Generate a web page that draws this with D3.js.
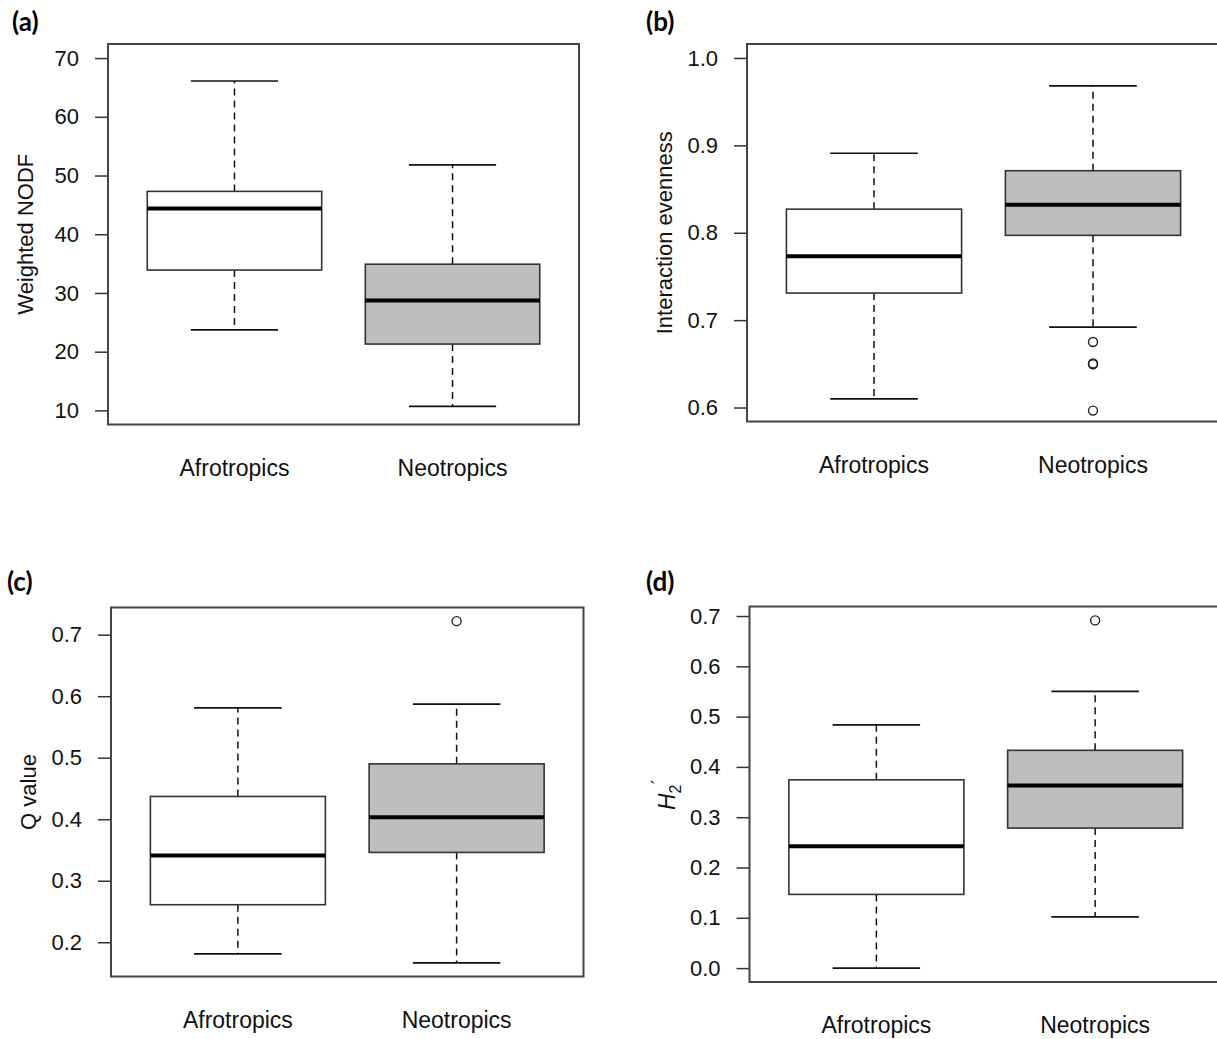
<!DOCTYPE html>
<html>
<head>
<meta charset="utf-8">
<script src="https://cdn.jsdelivr.net/npm/d3@7"></script>
<style>
  body { margin: 0; background: #fff; }
  svg { display: block; }
</style>
</head>
<body>
<script>

// groups and fills shared by all four panels
var groups = ["Afrotropics", "Neotropics"];
var fills = ["#ffffff", "#bebebe"];

// five number summaries: [low whisker, q1, median, q3, high whisker]
var nodfStats = [[23.7, 33.9, 44.4, 47.3, 66.1], [10.7, 21.3, 28.7, 34.9, 51.8]];
var nodfOut = [[], []];
var nodfTicks = [10, 20, 30, 40, 50, 60, 70];

var evenStats = [[0.610, 0.731, 0.773, 0.827, 0.891], [0.692, 0.797, 0.832, 0.871, 0.968]];
var evenOut = [[], [0.675, 0.6495, 0.6505, 0.5965]];
var evenTicks = [0.6, 0.7, 0.8, 0.9, 1.0];

var qStats = [[0.181, 0.261, 0.341, 0.437, 0.581], [0.1665, 0.346, 0.403, 0.490, 0.587]];
var qOut = [[], [0.722]];
var qTicks = [0.2, 0.3, 0.4, 0.5, 0.6, 0.7];

var h2Stats = [[0.0, 0.1465, 0.2424, 0.3743, 0.4835], [0.1019, 0.2784, 0.363, 0.433, 0.550]];
var h2Out = [[], [0.6913]];
var h2Ticks = [0.0, 0.1, 0.2, 0.3, 0.4, 0.5, 0.6, 0.7];

var W = 1217, H = 1039;
var font = "'Liberation Sans', Arial, sans-serif";

var svg = d3.select("body").append("svg")
            .attr("width", W)
            .attr("height", H);

// R style range: limits padded by 4% each side
var pad = function(lo, hi){
  var d = (hi - lo) * 0.04;
  return [lo - d, hi + d];
}

var draw_panel = function(p){
  var g = svg.append("g");

  // y limits: fixed ylim if given, otherwise from the data
  var lim = p.ylim;
  if (!lim) {
    var all = [];
    p.stats.forEach(function(s){ all = all.concat(s); });
    p.out.forEach(function(o){ all = all.concat(o); });
    lim = d3.extent(all);
  }

  var x = d3.scaleLinear().domain(pad(0.5, 2.5)).range([p.left, p.right]);
  var y = d3.scaleLinear().domain(pad(lim[0], lim[1])).range([p.bottom, p.top]);

  // panel letter
  g.append("text")
    .attr("x", p.lx).attr("y", p.ly)
    .style("font-family", "Lato, 'Open Sans', sans-serif")
    .style("font-weight", "bold")
    .style("font-size", "26px")
    .style("fill", "#000")
    .text(p.letter);

  // y axis, ticks on the left
  var yAxis = d3.axisLeft(y)
                .tickValues(p.ticks)
                .tickSize(13)
                .tickPadding(16)
                .tickFormat(p.fmt);
  var ax = g.append("g")
            .attr("transform", "translate(" + p.left + ",0)")
            .call(yAxis);
  ax.select(".domain").remove();
  ax.selectAll(".tick line").attr("stroke", "#333").attr("stroke-width", 1.5);
  ax.selectAll(".tick text")
    .style("font-family", font)
    .style("font-size", "22px")
    .style("fill", "#111");

  // boxes
  var bw = 0.4, sw = 0.2;
  p.stats.forEach(function(s, i){
    var cx = x(i + 1);

    // dashed whiskers
    g.append("line")
      .attr("x1", cx).attr("x2", cx)
      .attr("y1", y(s[3])).attr("y2", y(s[4]))
      .attr("stroke", "#111").attr("stroke-width", 1.5)
      .attr("stroke-dasharray", "7,5");
    g.append("line")
      .attr("x1", cx).attr("x2", cx)
      .attr("y1", y(s[1])).attr("y2", y(s[0]))
      .attr("stroke", "#111").attr("stroke-width", 1.5)
      .attr("stroke-dasharray", "7,5");

    // staples
    [s[0], s[4]].forEach(function(v){
      g.append("line")
        .attr("x1", x(i + 1 - sw)).attr("x2", x(i + 1 + sw))
        .attr("y1", y(v)).attr("y2", y(v))
        .attr("stroke", "#111").attr("stroke-width", 1.7);
    });

    // box
    g.append("rect")
      .attr("x", x(i + 1 - bw)).attr("y", y(s[3]))
      .attr("width", x(i + 1 + bw) - x(i + 1 - bw))
      .attr("height", y(s[1]) - y(s[3]))
      .style("fill", fills[i])
      .attr("stroke", "#333").attr("stroke-width", 1.6);

    // median
    g.append("line")
      .attr("x1", x(i + 1 - bw)).attr("x2", x(i + 1 + bw))
      .attr("y1", y(s[2])).attr("y2", y(s[2]))
      .attr("stroke", "#000").attr("stroke-width", 4);

    // outliers, open circles
    p.out[i].forEach(function(v){
      g.append("circle")
        .attr("cx", cx).attr("cy", y(v))
        .attr("r", 4.5)
        .style("fill", "none")
        .attr("stroke", "#222").attr("stroke-width", 1.4);
    });

    // group name under the box, no tick marks
    g.append("text")
      .attr("x", cx).attr("y", p.bottom + 51)
      .attr("text-anchor", "middle")
      .style("font-family", font)
      .style("font-size", "23px")
      .style("fill", "#111")
      .text(groups[i]);
  });

  // plot frame
  g.append("rect")
    .attr("x", p.left).attr("y", p.top)
    .attr("width", p.right - p.left)
    .attr("height", p.bottom - p.top)
    .style("fill", "none")
    .attr("stroke", "#444").attr("stroke-width", 2);

  // y title, rotated
  var t = g.append("text")
           .attr("transform", "translate(" + (p.left - 75) + "," + ((p.top + p.bottom) / 2) + ") rotate(-90)")
           .attr("text-anchor", "middle")
           .style("font-family", font)
           .style("font-size", "22px")
           .style("fill", "#111");
  if (p.title == "H2") {
    t.append("tspan").style("font-style", "italic").style("font-size", "23px").text("H");
    t.append("tspan").attr("dy", 6).style("font-size", "16px").text("2");
    t.append("tspan").attr("dy", -16).style("font-size", "18px").text("´");
  } else {
    t.text(p.title);
  }
}

var f0 = d3.format("d"), f1 = d3.format(".1f");

draw_panel({letter: "(a)", lx: 12, ly: 31, left: 108, right: 579, top: 44, bottom: 424.5,
            stats: nodfStats, out: nodfOut, ticks: nodfTicks, ylim: [10, 70], fmt: f0,
            title: "Weighted NODF"});
draw_panel({letter: "(b)", lx: 646, ly: 31, left: 747, right: 1220, top: 44, bottom: 421.5,
            stats: evenStats, out: evenOut, ticks: evenTicks, ylim: [0.6, 1.0], fmt: f1,
            title: "Interaction evenness"});
draw_panel({letter: "(c)", lx: 7, ly: 591, left: 111, right: 583.5, top: 607.5, bottom: 976.5,
            stats: qStats, out: qOut, ticks: qTicks, ylim: null, fmt: f1,
            title: "Q value"});
draw_panel({letter: "(d)", lx: 646, ly: 591, left: 749.5, right: 1222, top: 606.5, bottom: 982,
            stats: h2Stats, out: h2Out, ticks: h2Ticks, ylim: null, fmt: f1,
            title: "H2"});

</script>
</body>
</html>
